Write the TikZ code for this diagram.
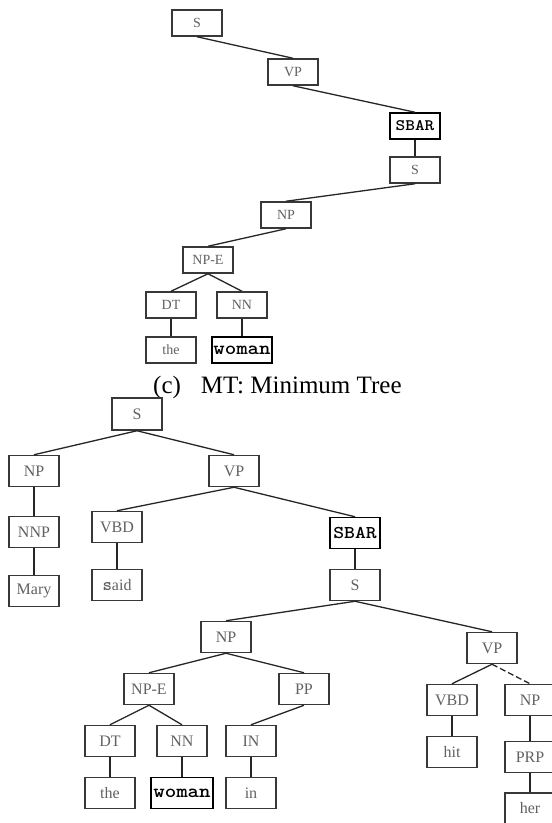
\documentclass[tikz,border=0pt]{standalone}
\usepackage{fontspec}
\usepackage{graphicx}
\setmainfont{Liberation Serif}
\tikzset{
  tb/.style={draw=black!78, line width=1.5pt, fill=white, minimum width=50pt,
    minimum height=26pt, inner sep=0pt, text=black!62,
    font=\fontsize{14}{14}\selectfont},
  bb/.style={tb, minimum height=31pt, font=\fontsize{16}{16}\selectfont},
  monobox/.style={draw=black, text=black},
  edge/.style={draw=black!85, line width=1.3pt},
}
\newcommand{\sbartxt}[1]{\scalebox{1.15}[1]{\ttfamily\bfseries\fontsize{#1}{#1}\selectfont SBAR}}
\newcommand{\womantxt}{\scalebox{1.15}[1]{\ttfamily\bfseries\fontsize{19}{19}\selectfont woman}}
\begin{document}
\begin{tikzpicture}[x=1pt,y=-1pt]
\fill[white] (0,0) rectangle (552,823);
\useasboundingbox (0,0) rectangle (552,823);
% ---- top tree (minimum tree)
\node[tb] (tS) at (197,23) {S};
\node[tb] (tVP) at (293,72) {VP};
\node[tb,monobox] (tSBAR) at (415,126) {\sbartxt{16}};
\node[tb] (tS2) at (415,170) {S};
\node[tb] (tNP) at (286,215) {NP};
\node[tb] (tNPE) at (208,260) {NP-E};
\node[tb] (tDT) at (171,305) {DT};
\node[tb] (tNN) at (242,305) {NN};
\node[tb] (tthe) at (171,350) {the};
\node[tb,monobox,minimum width=60pt] (twoman) at (242,350) {\womantxt};
\draw[edge] (tS.south) -- (tVP.north);
\draw[edge] (tVP.south) -- (tSBAR.north);
\draw[edge] (tSBAR.south) -- (tS2.north);
\draw[edge] (tS2.south) -- (tNP.north);
\draw[edge] (tNP.south) -- (tNPE.north);
\draw[edge] (tNPE.south) -- (tDT.north);
\draw[edge] (tNPE.south) -- (tNN.north);
\draw[edge] (tDT.south) -- (tthe.north);
\draw[edge] (tNN.south) -- (twoman.north);
% caption
\node[anchor=base west, inner sep=0pt, font=\fontsize{25}{25}\selectfont] (cap) at (153,393) {(c)\hspace{20pt}MT: Minimum Tree};
% ---- bottom tree (full tree)
\node[bb,minimum height=32pt] (bS) at (137,414) {S};
\node[bb] (bNP) at (34,471) {NP};
\node[bb] (bVP) at (234,471) {VP};
\node[bb] (bNNP) at (34,532) {NNP};
\node[bb] (bVBD) at (117,527) {VBD};
\node[bb] (bMary) at (34,591) {Mary};
\node[bb] (bsaid) at (117,585) {{\ttfamily\bfseries\fontsize{18}{18}\selectfont s}aid};
\node[bb,monobox] (bSBAR) at (355,533) {\sbartxt{18}};
\node[bb] (bS2) at (355,585) {S};
\node[bb] (bNP2) at (226,637) {NP};
\node[bb] (bNPE) at (149,689) {NP-E};
\node[bb] (bPP) at (304,689) {PP};
\node[bb] (bDT) at (110,741) {DT};
\node[bb] (bNN) at (182,741) {NN};
\node[bb] (bIN) at (251,741) {IN};
\node[bb] (bthe) at (110,793) {the};
\node[bb,monobox,minimum width=62pt] (bwoman) at (182,793) {\womantxt};
\node[bb] (bin) at (251,793) {in};
\node[bb] (bVP2) at (492,648) {VP};
\node[bb] (bVBD2) at (452,700) {VBD};
\node[bb] (bNPr) at (530,700) {NP};
\node[bb] (bhit) at (452,752) {hit};
\node[bb] (bPRP) at (530,757) {PRP};
\node[bb] (bher) at (530,808.5) {her};
\draw[edge] (bS.south) -- (bNP.north);
\draw[edge] (bS.south) -- (bVP.north);
\draw[edge] (bNP.south) -- (bNNP.north);
\draw[edge] (bNNP.south) -- (bMary.north);
\draw[edge] (bVP.south) -- (bVBD.north);
\draw[edge] (bVBD.south) -- (bsaid.north);
\draw[edge] (bVP.south) -- (bSBAR.north);
\draw[edge] (bSBAR.south) -- (bS2.north);
\draw[edge] (bS2.south) -- (bNP2.north);
\draw[edge] (bS2.south) -- (bVP2.north);
\draw[edge] (bNP2.south) -- (bNPE.north);
\draw[edge] (bNP2.south) -- (bPP.north);
\draw[edge] (bNPE.south) -- (bDT.north);
\draw[edge] (bNPE.south) -- (bNN.north);
\draw[edge] (bPP.south) -- (bIN.north);
\draw[edge] (bDT.south) -- (bthe.north);
\draw[edge] (bNN.south) -- (bwoman.north);
\draw[edge] (bIN.south) -- (bin.north);
\draw[edge] (bVP2.south) -- (bVBD2.north);
\draw[edge, dash pattern=on 6pt off 3pt] (bVP2.south) -- (bNPr.north);
\draw[edge] (bVBD2.south) -- (bhit.north);
\draw[edge] (bNPr.south) -- (bPRP.north);
\draw[edge] (bPRP.south) -- (bher.north);
\end{tikzpicture}
\end{document}
